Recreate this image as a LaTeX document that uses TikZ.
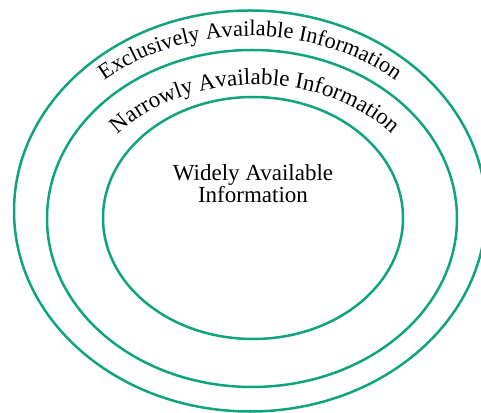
\documentclass[tikz,border=0pt]{standalone}
\usepackage{fontspec}
\setmainfont{Liberation Serif}
\usetikzlibrary{decorations.text}
\definecolor{ringgreen}{RGB}{16,163,127}
\newcommand\lblfont{\fontsize{23}{22}\selectfont}
\newcommand\outerfont{\fontsize{22.3}{22}\selectfont}
\tikzset{
  ring/.style={draw=ringgreen, line width=2.5pt},
  arclabel/.style={decorate, decoration={text along path, text align=center, text={#1}}}
}
\begin{document}
\begin{tikzpicture}[x=1pt,y=1pt]
\useasboundingbox (0,0) rectangle (481,412);
\coordinate (co) at (250,201);
\coordinate (cm) at (252,193.5);
\coordinate (ci) at (253,194);
\coordinate (tm) at (255,193.5);
\draw[ring] (co) ellipse [x radius=236, y radius=200.5];
\draw[ring] (cm) ellipse [x radius=205, y radius=168.5];
\draw[ring] (ci) ellipse [x radius=150, y radius=121];
\path[arclabel={|\outerfont|Exclusively Available Information}]
  (co) ++(170:219 and 175) arc[start angle=170, end angle=10, x radius=219, y radius=175];
\path[arclabel={|\lblfont|Narrowly Available Information}]
  (tm) ++(170:176 and 134) arc[start angle=170, end angle=10, x radius=176, y radius=134];
\node[font=\lblfont, align=center, anchor=center] (wide) at (253,228) {Widely Available\\Information};
\end{tikzpicture}
\end{document}
